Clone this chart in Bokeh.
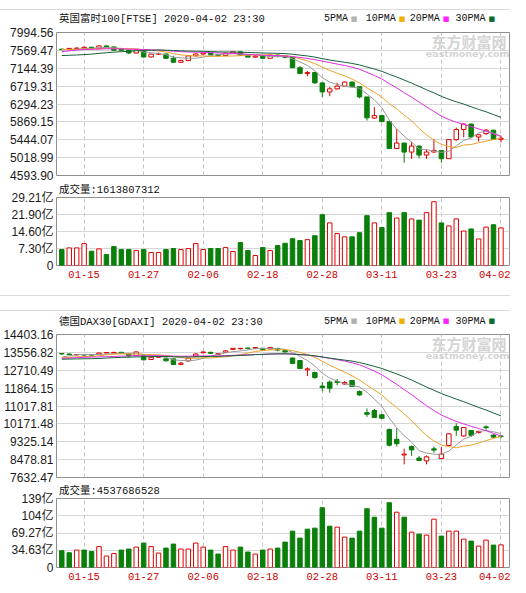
import numpy as np
from bokeh.plotting import figure
from bokeh.models import ColumnDataSource, FixedTicker, Label, Range1d, Div
from bokeh.layouts import column
from bokeh.embed import file_html
from bokeh.resources import INLINE

# ---------------- data ----------------
dates = ["01-10", "01-13", "01-14", "01-15", "01-16", "01-17", "01-20", "01-21", "01-22", "01-23",
         "01-24", "01-27", "01-28", "01-29", "01-30", "01-31", "02-03", "02-04", "02-05", "02-06",
         "02-07", "02-10", "02-11", "02-12", "02-13", "02-14", "02-17", "02-18", "02-19", "02-20",
         "02-21", "02-24", "02-25", "02-26", "02-27", "02-28", "03-02", "03-03", "03-04", "03-05",
         "03-06", "03-09", "03-10", "03-11", "03-12", "03-13", "03-16", "03-17", "03-18", "03-19",
         "03-20", "03-23", "03-24", "03-25", "03-26", "03-27", "03-30", "03-31", "04-01", "04-02"]
tick_dates = ["01-15", "01-27", "02-06", "02-18", "02-28", "03-11", "03-23", "04-02"]

ftse_title = "英国富时100[FTSE] 2020-04-02 23:30"
ftse_open = [7598, 7588, 7617, 7622, 7643, 7610, 7675, 7651, 7600, 7572, 7507, 7586, 7412, 7481, 7484,
             7381, 7286, 7326, 7439, 7483, 7505, 7467, 7446, 7500, 7534, 7452, 7409, 7434, 7382, 7457,
             7437, 7404, 7157, 7018, 7042, 6796, 6581, 6654, 6718, 6815, 6705, 6462, 5960, 6018, 5876,
             5237, 5366, 5151, 5295, 5080, 5152, 5190, 4994, 5447, 5689, 5816, 5510, 5590, 5672, 5455]
ftse_high = [7610, 7625, 7640, 7660, 7655, 7690, 7685, 7660, 7620, 7595, 7600, 7586, 7490, 7520, 7490,
             7440, 7350, 7450, 7500, 7520, 7510, 7480, 7520, 7545, 7540, 7460, 7450, 7440, 7470, 7475,
             7440, 7404, 7200, 7080, 7060, 6810, 6700, 6800, 6830, 6830, 6705, 6462, 6220, 6040, 5876,
             5700, 5366, 5400, 5295, 5210, 5460, 5200, 5450, 5735, 5830, 5830, 5580, 5700, 5672, 5540]
ftse_low = [7570, 7570, 7600, 7610, 7600, 7605, 7640, 7560, 7565, 7480, 7500, 7400, 7400, 7460, 7360,
            7280, 7270, 7320, 7430, 7470, 7450, 7420, 7440, 7490, 7440, 7400, 7400, 7360, 7380, 7400,
            7380, 7150, 7010, 6950, 6780, 6460, 6480, 6640, 6700, 6690, 6430, 5900, 5940, 5860, 5230,
            5230, 4898, 4988, 5000, 4990, 5140, 4899, 4994, 5420, 5500, 5480, 5400, 5560, 5440, 5380]
ftse_close = [7588, 7617, 7622, 7643, 7610, 7675, 7651, 7571.9, 7571.8, 7507, 7586, 7412, 7481, 7484, 7381,
              7286, 7326, 7439, 7483, 7505, 7467, 7446, 7500, 7534, 7452, 7409, 7434, 7382, 7457, 7437,
              7404, 7157, 7018, 7042, 6796, 6581, 6654, 6718, 6815, 6705, 6463, 5965, 6018, 5876, 5237,
              5366, 5151, 5295, 5080, 5152, 5191, 4994, 5447, 5689, 5816, 5510, 5563, 5672, 5455, 5480]
# closes of the 29 sessions before the window (needed for the moving averages)
ftse_prev_close = [7430, 7417, 7347, 7285, 7158, 7188, 7137, 7240, 7233, 7213, 7216, 7273, 7353, 7519, 7525,
                   7541, 7574, 7582, 7624, 7632, 7645, 7587, 7542, 7604, 7623, 7576, 7574, 7575, 7598]
# volume in 亿 (1e8)
ftse_volume = [6.84, 7.56, 7.56, 9.41, 6.13, 7.13, 4.70, 8.13, 6.84, 6.84, 6.42, 6.84, 5.56, 5.56, 6.84,
               7.27, 6.84, 7.27, 9.41, 6.84, 7.27, 7.27, 7.70, 5.99, 9.84, 6.42, 4.28, 7.70, 6.42, 8.55,
               9.55, 11.5, 10.7, 11.1, 12.8, 21.8, 18.3, 13.7, 12.3, 12.3, 14.1, 21.4, 18.3, 16.3, 22.7,
               20.4, 22.7, 20.0, 19.5, 22.7, 27.4, 18.3, 17.0, 20.0, 14.8, 15.7, 11.4, 16.5, 17.5, 16.13807312]
ftse_price_labels = ["4593.90", "5018.99", "5444.07", "5869.15", "6294.23", "6719.31", "7144.39", "7569.47", "7994.56"]
ftse_vol_labels = ["0", "7.30亿", "14.60亿", "21.90亿", "29.21亿"]
ftse_vol_ticks = [0, 7.3025, 14.605, 21.9075, 29.21]

dax_title = "德国DAX30[GDAXI] 2020-04-02 23:30"
dax_open = [13500, 13480, 13440, 13450, 13440, 13470, 13530, 13540, 13560, 13500,
            13400, 13400, 13220, 13330, 13250, 13250, 12990, 13150, 13380, 13540,
            13560, 13460, 13560, 13700, 13730, 13760, 13760, 13750, 13720, 13730,
            13650, 13290, 13170, 12730, 12600, 11960, 12150, 12180, 12060, 12225,
            11700, 10700, 10805, 10600, 9905, 9440, 8700, 9100, 8550, 8420,
            8990, 8530, 9150, 10050, 9600, 9860, 9760, 10030, 9640, 9600]
dax_high = [13525, 13500, 13480, 13470, 13470, 13540, 13570, 13580, 13580, 13510,
            13600, 13420, 13350, 13400, 13260, 13280, 13100, 13300, 13520, 13600,
            13580, 13510, 13660, 13760, 13770, 13780, 13800, 13760, 13800, 13780,
            13660, 13300, 13200, 12850, 12640, 12150, 12230, 12300, 12200, 12250,
            11750, 10900, 10880, 10650, 9950, 9960, 9000, 9150, 8650, 8680,
            9100, 9070, 9720, 10200, 10010, 9870, 9850, 10100, 9680, 9620]
dax_low = [13440, 13420, 13400, 13400, 13410, 13460, 13510, 13500, 13490, 13320,
           13390, 13180, 13200, 13300, 13120, 12960, 12950, 13140, 13370, 13500,
           13490, 13440, 13550, 13690, 13690, 13710, 13740, 13650, 13710, 13600,
           13550, 13000, 12780, 12440, 12300, 11720, 11650, 12000, 12030, 11940,
           11500, 10500, 10450, 10400, 9100, 9100, 8255, 8650, 8400, 8255,
           8800, 8520, 9140, 9600, 9560, 9550, 9720, 9890, 9500, 9480]
dax_close = [13483, 13452, 13456, 13432, 13429, 13526, 13549, 13556, 13515, 13388,
             13577, 13205, 13324, 13346, 13158, 12982, 13046, 13282, 13479, 13575,
             13514, 13494, 13627, 13749, 13745, 13744, 13784, 13682, 13790, 13665,
             13579, 13035, 12790, 12775, 12367, 11890, 11857, 12127, 12128, 11945,
             11542, 10625, 10475, 10438, 9161, 9232, 8742, 8939, 8442, 8611,
             8929, 8742, 9701, 9875, 10001, 9633, 9816, 9990, 9544, 9571]
dax_prev_close = [13247, 13236, 13287, 13245, 13236, 12965, 12989, 13140, 13055, 13166, 13105, 13071, 13141,
                  13222, 13283, 13407, 13288, 13242, 13212, 13319, 13300, 13337, 13249, 13386, 13219, 13127,
                  13227, 13321, 13495]
dax_volume = [33.6, 29.6, 35, 35, 32, 42, 23, 28, 35, 37, 41, 49, 42, 29, 39, 47, 37, 37, 49, 41,
              35, 27, 42, 35, 41, 31, 27, 35, 37, 39, 51, 73, 59, 77, 79, 120, 83, 81, 61, 59,
              73, 118, 101, 79, 130, 111, 101, 71, 67, 65, 97, 63, 73, 73, 57, 53, 43, 55, 45, 45.37686528]
dax_price_labels = ["7632.47", "8478.81", "9325.14", "10171.48", "11017.81", "11864.15", "12710.49", "13556.82", "14403.16"]
dax_vol_labels = ["0", "34.63亿", "69.27亿", "104亿", "139亿"]
dax_vol_ticks = [0, 34.6325, 69.265, 103.8975, 138.53]

ma_periods = [5, 10, 20, 30]
ma_names = ["5PMA", "10PMA", "20PMA", "30PMA"]
ma_colors = ["#9a9a9a", "#eba22a", "#e02ee0", "#17603a"]
legend_swatch = ["#b0b0b0", "#f0b000", "#ff22ff", "#0b6b35"]

# ---------------- styling ----------------
RED = "#dd0000"
GREEN = "#0a7f0a"
MONO = "Liberation Mono, Noto Sans CJK SC"
SANS = "Liberation Sans, Noto Sans CJK SC"
SEP = "#dadada"
W = 510
FRAME_L, FRAME_R = 55, 509          # frame edges in page pixels (shared by every panel of the column)
X_RANGE = (-0.71, 60.15)
idx = list(range(len(dates)))
tick_idx = [dates.index(d) for d in tick_dates]


def sma(prev, close, n):
    seq = list(prev) + list(close)
    k = len(prev)
    return [float(np.mean(seq[k + i - n + 1:k + i + 1])) for i in range(len(close))]


def label(p, x, y, s, size="10.5px", color="#111111", font=MONO, align="left", style="normal", units="screen"):
    p.add_layout(Label(x=x, y=y, x_units=units, y_units=units, text=s,
                       text_font=font, text_font_size=size, text_color=color,
                       text_align=align, text_baseline="middle", text_font_style=style))


def rule_div(height, gradient):
    return Div(text="", width=W, height=height, margin=0, styles={"background": gradient})


def header_fig(height, title, title_y):
    """A strip that carries the panel title and the MA legend (x in page pixels)."""
    h = figure(width=W, height=height, x_range=Range1d(FRAME_L, FRAME_R), y_range=Range1d(0, height),
               output_backend="svg", toolbar_location=None, x_axis_location=None, y_axis_location=None,
               min_border_left=FRAME_L, min_border_right=W - FRAME_R, min_border_top=0, min_border_bottom=0)
    h.grid.visible = False
    h.outline_line_color = None
    label(h, 57.5, title_y, title, units="data")
    lx = [323, 365, 409, 455]
    for x0, name, col in zip(lx, ma_names, legend_swatch):
        label(h, x0, title_y, name, size="10px", units="data")
        label(h, x0 + 6.0 * len(name) + 3, title_y + 0.3, "■", size="7px", color=col,
              font="DejaVu Sans", units="data")
    return h


def base_fig(height, top, bottom, ylo, yhi):
    p = figure(width=W, height=height, x_range=Range1d(*X_RANGE), y_range=Range1d(ylo, yhi),
               output_backend="svg", toolbar_location=None,
               min_border_left=FRAME_L, min_border_right=W - FRAME_R, min_border_top=top, min_border_bottom=bottom)
    p.outline_line_color = "#8f8f8f"
    p.outline_line_width = 1
    p.background_fill_color = "white"
    p.border_fill_color = "white"
    p.xgrid.ticker = FixedTicker(ticks=tick_idx)
    p.xgrid.grid_line_color = "#c4c4c4"
    p.xgrid.grid_line_dash = "4 3"
    p.ygrid.grid_line_color = "#d6d6d6"
    return p


def style_yaxis(p, ticks, labels):
    ax = p.yaxis[0]
    ax.ticker = FixedTicker(ticks=ticks)
    ax.major_label_overrides = {t: s for t, s in zip(ticks, labels)}
    ax.axis_line_color = None
    ax.major_tick_line_color = None
    ax.minor_tick_line_color = None
    ax.major_tick_out = 0
    ax.major_tick_in = 0
    ax.minor_tick_out = 0
    ax.major_label_standoff = 3
    ax.major_label_text_font = SANS
    ax.major_label_text_font_size = "12px"
    ax.major_label_text_color = "#1a1a1a"


def price_panel(height, top, bottom, o, h, l, c, prev, labels):
    ticks = [float(s) for s in labels]
    p = base_fig(height, top, bottom, ticks[0], ticks[-1])
    p.xaxis.visible = False
    style_yaxis(p, ticks, labels)
    o, h, l, c = map(np.asarray, (o, h, l, c))
    up = c >= o
    src = ColumnDataSource(dict(x=idx, hi=h, lo=l, top=np.maximum(o, c), bot=np.minimum(o, c),
                                col=[RED if u else GREEN for u in up],
                                fill=["white" if u else GREEN for u in up]))
    p.segment("x", "hi", "x", "lo", source=src, line_color="col", line_width=1)
    p.vbar(x="x", width=0.6, top="top", bottom="bot", source=src,
           fill_color="fill", line_color="col", line_width=1)
    for n, col in zip(ma_periods, ma_colors):
        p.line(idx, sma(prev, c, n), line_color=col, line_width=1)
    fh = height - top - bottom
    # watermark (top right of the frame)
    label(p, 450, fh - 9.3, "东方财富网", size="15px", color="#d4d4d4", font="Noto Sans CJK SC",
          align="right", style="bold")
    label(p, 453, fh - 20.8, "eastmoney.com", size="9.5px", color="#d4d4d4", font="DejaVu Sans",
          align="right", style="bold")
    return p


def volume_panel(height, top, bottom, vol, close, prev, ticks, labels):
    p = base_fig(height, top, bottom, ticks[0], ticks[-1])
    style_yaxis(p, ticks, labels)
    xa = p.xaxis[0]
    xa.ticker = FixedTicker(ticks=tick_idx)
    xa.major_label_overrides = {i: d for i, d in zip(tick_idx, tick_dates)}
    xa.axis_line_color = None
    xa.major_tick_line_color = None
    xa.minor_tick_line_color = None
    xa.major_tick_out = 0
    xa.minor_tick_out = 0
    xa.major_label_standoff = 5
    xa.major_label_text_font = MONO
    xa.major_label_text_font_size = "10.5px"
    xa.major_label_text_color = "#cc0000"
    pc = [prev[-1]] + list(close[:-1])
    up = [c >= q for c, q in zip(close, pc)]
    src = ColumnDataSource(dict(x=idx, v=vol, col=[RED if u else GREEN for u in up],
                                fill=["white" if u else GREEN for u in up]))
    p.vbar(x="x", width=0.6, top="v", bottom=0, source=src, fill_color="fill", line_color="col", line_width=1)
    p.title.text = "成交量:%d" % int(round(vol[-1] * 1e8))
    p.title.align = "left"
    p.title.vertical_align = "top"
    p.title.offset = 2.5
    p.title.standoff = 0
    p.title.text_font = MONO
    p.title.text_font_size = "10.5px"
    p.title.text_font_style = "normal"
    p.title.text_color = "#111111"
    return p


sep_top = rule_div(10, "linear-gradient(to bottom, transparent 0px, transparent 9px, %s 9px, %s 10px)" % (SEP, SEP))
hA = header_fig(15, ftse_title, 6.7)
pA = price_panel(157, 7, 7, ftse_open, ftse_high, ftse_low, ftse_close, ftse_prev_close, ftse_price_labels)
pB = volume_panel(113, 15, 30, ftse_volume, ftse_close, ftse_prev_close, ftse_vol_ticks, ftse_vol_labels)
sep_mid = rule_div(16, "linear-gradient(to bottom, %s 0px, %s 1px, transparent 1px, transparent 15px, %s 15px, %s 16px)"
                   % (SEP, SEP, SEP, SEP))
hC = header_fig(16, dax_title, 6.0)
pC = price_panel(157, 7, 7, dax_open, dax_high, dax_low, dax_close, dax_prev_close, dax_price_labels)
pD = volume_panel(104, 14, 21, dax_volume, dax_close, dax_prev_close, dax_vol_ticks, dax_vol_labels)

layout = column(sep_top, hA, pA, pB, sep_mid, hC, pC, pD, spacing=0)
open("out.html", "w").write(file_html(layout, INLINE))
